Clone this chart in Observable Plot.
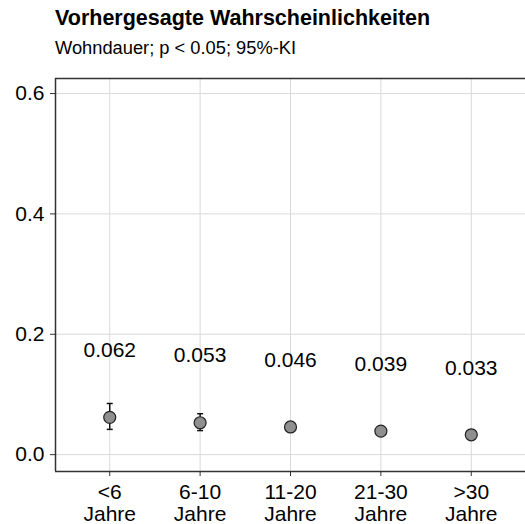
<!DOCTYPE html>
<html>
<head>
<meta charset="utf-8">
<script src="https://cdn.jsdelivr.net/npm/d3@7"></script>
<script src="https://cdn.jsdelivr.net/npm/@observablehq/plot@0.6"></script>
<style>
  html, body { margin: 0; padding: 0; background: #fff; overflow: hidden; }
  #wrap { position: relative; width: 525px; height: 524px; font-family: "Liberation Sans", Arial, sans-serif; overflow: hidden; }
  #title { position: absolute; left: 55px; top: 8px; font-size: 21.5px; font-weight: bold; line-height: 1; color: #000; white-space: nowrap; }
  #subtitle { position: absolute; left: 55px; top: 39px; font-size: 18.3px; line-height: 1; color: #000; white-space: nowrap; }
  #chart { position: absolute; left: 0; top: 0; width: 525px; }
  #chart svg { max-width: none !important; }
</style>
</head>
<body>
<div id="wrap">
  <div id="chart"></div>
  <div id="title">Vorhergesagte Wahrscheinlichkeiten</div>
  <div id="subtitle">Wohndauer; p &lt; 0.05; 95%-KI</div>
</div>
<script>
const categories = ["<6\nJahre", "6-10\nJahre", "11-20\nJahre", "21-30\nJahre", ">30\nJahre"];
const estimates = [0.062, 0.053, 0.046, 0.039, 0.033];
const lower = [0.042, 0.040, 0.040, 0.034, 0.028];
const upper = [0.085, 0.068, 0.053, 0.045, 0.039];
const labels = ["0.062", "0.053", "0.046", "0.039", "0.033"];
const yTicks = [0, 0.2, 0.4, 0.6];
const xDomain = [0.4, 5.6];
const yDomain = [-0.028, 0.625];

const positions = categories.map((c, i) => i + 1);
const data = categories.map((c, i) => ({pos: i + 1, est: estimates[i], lo: lower[i], hi: upper[i], label: labels[i]}));

const capSymbol = {
  draw(ctx, size) {
    const r = Math.sqrt(size / Math.PI);
    ctx.moveTo(-r, 0);
    ctx.lineTo(r, 0);
  }
};

const chart = Plot.plot({
  width: 525,
  height: 524,
  marginLeft: 55,
  marginRight: 0,
  marginTop: 78,
  marginBottom: 53,
  style: {fontFamily: "Liberation Sans, Arial, sans-serif", fontSize: "21px", color: "#000", background: "#fff", maxWidth: "none"},
  x: {domain: xDomain, label: null},
  y: {domain: yDomain, label: null},
  marks: [
    Plot.gridY(yTicks, {stroke: "#d9d9d9", strokeOpacity: 1, strokeWidth: 1}),
    Plot.gridX(positions, {stroke: "#d9d9d9", strokeOpacity: 1, strokeWidth: 1}),
    Plot.axisY(yTicks, {tickSize: 5, tickPadding: 6, tickFormat: d3.format(".1f"), fontSize: 21, stroke: "#333", label: null}),
    Plot.axisX(positions, {tickSize: 5, tickPadding: 7, fontSize: 21, lineHeight: 1.05, stroke: "#333", label: null, tickFormat: (d) => categories[d - 1]}),
    Plot.ruleY([yDomain[0], yDomain[1]], {stroke: "#333", strokeWidth: 1.5}),
    Plot.ruleX([xDomain[0]], {stroke: "#333", strokeWidth: 1.5}),
    Plot.ruleX(data, {x: "pos", y1: "lo", y2: "hi", stroke: "#111", strokeWidth: 1.5}),
    Plot.dot(data, {x: "pos", y: "lo", symbol: capSymbol, r: 3, stroke: "#111", strokeWidth: 1.5}),
    Plot.dot(data, {x: "pos", y: "hi", symbol: capSymbol, r: 3, stroke: "#111", strokeWidth: 1.5}),
    Plot.dot(data, {x: "pos", y: "est", r: 6, fill: "#8f8f8f", stroke: "#222", strokeWidth: 1.2}),
    Plot.text(data, {x: "pos", y: "est", text: "label", dy: -67, fontSize: 21, fill: "#000"})
  ]
});
document.getElementById("chart").appendChild(chart);
</script>
</body>
</html>
